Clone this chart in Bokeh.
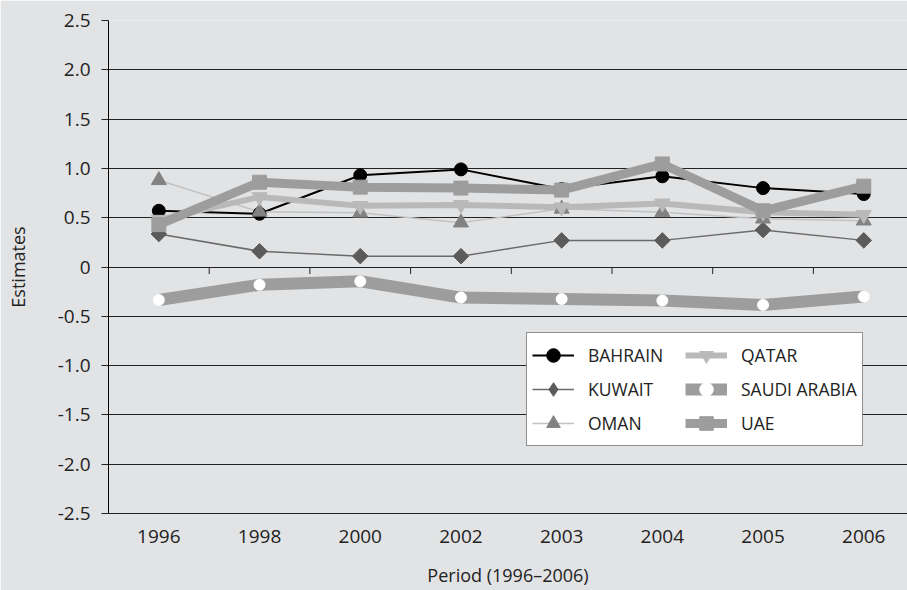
from bokeh.plotting import figure
from bokeh.models import Range1d, FixedTicker, Legend, LegendItem
from bokeh.embed import file_html
from bokeh.resources import INLINE

years = ["1996", "1998", "2000", "2002", "2003", "2004", "2005", "2006"]
bahrain = [0.57, 0.54, 0.93, 0.99, 0.79, 0.92, 0.80, 0.74]
kuwait = [0.335, 0.16, 0.11, 0.11, 0.27, 0.27, 0.375, 0.27]
oman = [0.88, 0.56, 0.55, 0.45, 0.59, 0.555, 0.49, 0.47]
qatar = [0.48, 0.71, 0.62, 0.63, 0.605, 0.645, 0.555, 0.53]
saudi = [-0.335, -0.18, -0.145, -0.31, -0.325, -0.34, -0.385, -0.30]
uae = [0.43, 0.86, 0.81, 0.80, 0.78, 1.045, 0.57, 0.82]
yticks = [-2.5, -2.0, -1.5, -1.0, -0.5, 0.0, 0.5, 1.0, 1.5, 2.0, 2.5]
ytick_labels = ["-2.5", "-2.0", "-1.5", "-1.0", "-0.5", "0", "0.5", "1.0", "1.5", "2.0", "2.5"]

FONT = "Open Sans"
BG = "#e2e3e5"
DARK = "#222222"

xs = [i + 0.5 for i in range(len(years))]
bounds = [i for i in range(1, len(years))]

p = figure(width=907, height=590,
           x_range=Range1d(0, 799 / 100.7), y_range=Range1d(-2.5, 2.5),
           output_backend="svg", toolbar_location=None,
           min_border_left=108, min_border_right=0, min_border_top=20, min_border_bottom=77,
           background_fill_color=BG, border_fill_color=BG, outline_line_color=None)

p.xgrid.visible = False
p.ygrid.ticker = FixedTicker(ticks=yticks)
p.ygrid.grid_line_color = DARK
p.ygrid.grid_line_width = 1

ya = p.yaxis[0]
ya.ticker = FixedTicker(ticks=yticks)
ya.major_label_overrides = {t: l for t, l in zip(yticks, ytick_labels)}
ya.major_tick_out = 7
ya.major_tick_in = 0
ya.minor_tick_line_color = None
ya.major_tick_line_color = DARK
ya.axis_line_color = "black"
ya.major_label_standoff = 11
ya.major_label_text_font = FONT
ya.major_label_text_font_size = "19px"
ya.major_label_text_color = DARK
ya.axis_label = "Estimates"
ya.axis_label_text_font = FONT
ya.axis_label_text_font_size = "18px"
ya.axis_label_text_font_style = "normal"
ya.axis_label_text_color = DARK
ya.axis_label_standoff = 25

xa = p.xaxis[0]
xa.ticker = FixedTicker(ticks=xs)
xa.major_label_overrides = {x: y for x, y in zip(xs, years)}
xa.major_tick_out = 0
xa.major_tick_in = 0
xa.minor_tick_line_color = None
xa.axis_line_color = DARK
xa.major_label_standoff = 16
xa.major_label_text_font = FONT
xa.major_label_text_font_size = "19px"
xa.major_label_text_color = DARK
xa.axis_label = "Period (1996\u20132006)"
xa.axis_label_text_font = FONT
xa.axis_label_text_font_size = "18px"
xa.axis_label_text_font_style = "normal"
xa.axis_label_text_color = DARK
xa.axis_label_standoff = 17

# category boundary ticks on the zero line
p.segment(x0=bounds, y0=[0] * len(bounds), x1=bounds, y1=[-0.071] * len(bounds),
          line_color=DARK, line_width=1)

# lines (drawn first, in series order)
lb = p.line(xs, bahrain, line_color="black", line_width=2)
lk = p.line(xs, kuwait, line_color="#6a6a6a", line_width=1.5)
lo = p.line(xs, oman, line_color="#c2c2c2", line_width=1.5)
lq = p.line(xs, qatar, line_color="#b9b9b9", line_width=6)
ls = p.line(xs, saudi, line_color="#9d9d9d", line_width=12)
lu = p.line(xs, uae, line_color="#9d9d9d", line_width=9)

# markers on top
mb = p.scatter(xs, bahrain, marker="circle", size=13, fill_color="black", line_color="black")
mk = p.scatter(xs, kuwait, marker="square", angle=0.785398, size=11, fill_color="#5b5b5b", line_color="#5b5b5b")
mo = p.scatter(xs, oman, marker="triangle", size=15, fill_color="#828282", line_color="#828282")
mq = p.scatter(xs, qatar, marker="inverted_triangle", size=15, fill_color="#b9b9b9", line_color="#b9b9b9")
ms = p.scatter(xs, saudi, marker="circle", size=11, fill_color="white", line_color="white")
mu = p.scatter(xs, uae, marker="square", size=14, fill_color="#9d9d9d", line_color="#9d9d9d")

# legend-only diamond (legend glyphs ignore marker angle)
mk_leg = p.scatter(xs, kuwait, marker="diamond", size=19, fill_color="#5b5b5b",
                   line_color="#5b5b5b", visible=False)

legend = Legend(items=[
    LegendItem(label="BAHRAIN", renderers=[lb, mb]),
    LegendItem(label="KUWAIT", renderers=[lk, mk_leg]),
    LegendItem(label="OMAN", renderers=[lo, mo]),
    LegendItem(label="QATAR", renderers=[lq, mq]),
    LegendItem(label="SAUDI ARABIA", renderers=[ls, ms]),
    LegendItem(label="UAE", renderers=[lu, mu]),
], location=(418, 67), nrows=3, orientation="vertical",
    background_fill_color="white", background_fill_alpha=1,
    border_line_color=DARK, border_line_width=1.5,
    padding=5, spacing=0, margin=0, label_standoff=14,
    glyph_width=42, glyph_height=34, label_height=34, label_width=97,
    inactive_fill_alpha=0,
    label_text_font=FONT, label_text_font_size="17.5px", label_text_color=DARK)
p.add_layout(legend)

open("out.html", "w").write(file_html(p, INLINE))
